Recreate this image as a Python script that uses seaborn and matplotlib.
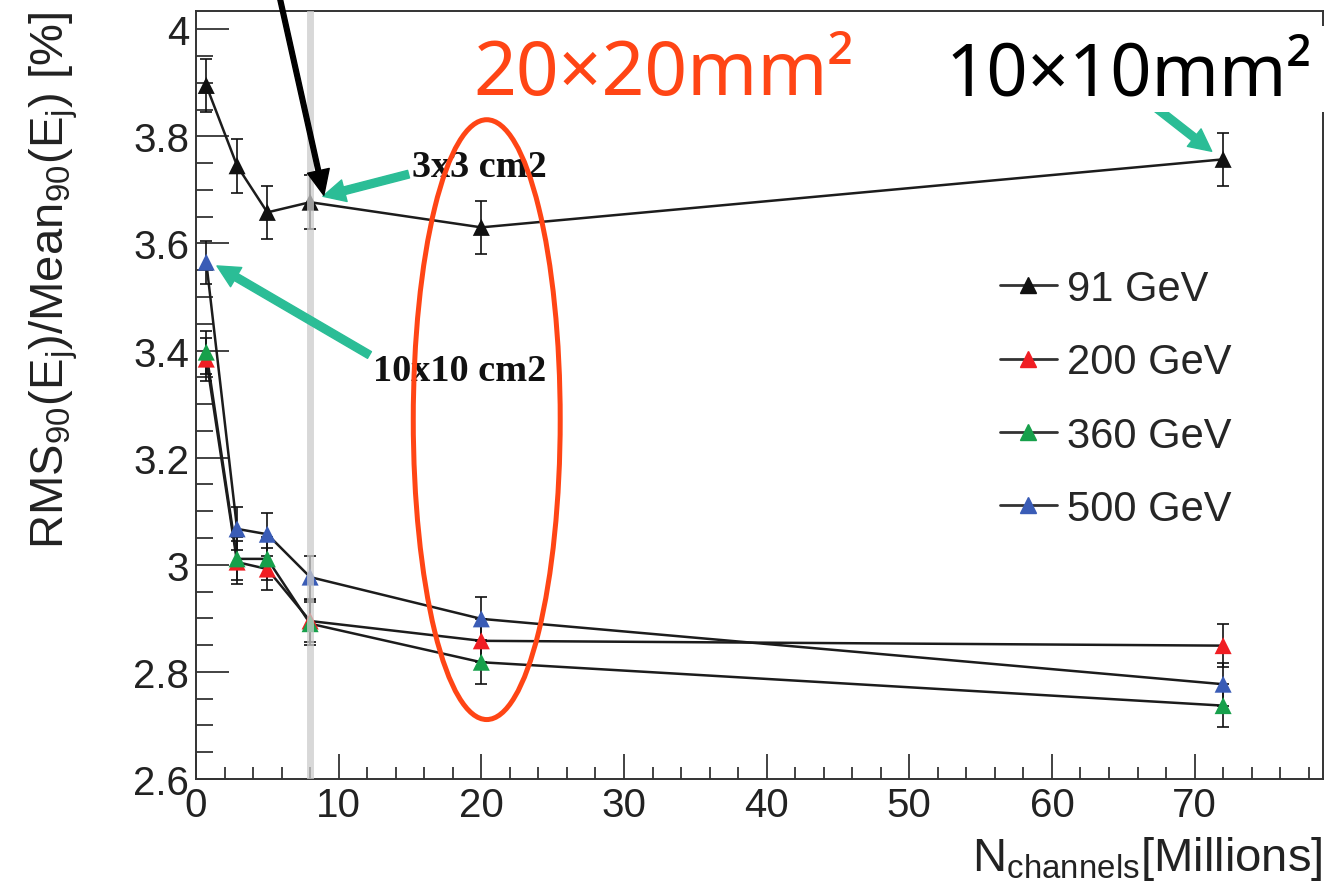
import numpy as np
import pandas as pd
import matplotlib
matplotlib.use("Agg")
import matplotlib.pyplot as plt
import seaborn as sns
from matplotlib.patches import Ellipse, Rectangle
from matplotlib.lines import Line2D
from matplotlib.ticker import MultipleLocator, FuncFormatter

# Jet energy resolution vs. number of readout channels
n_channels = [0.72, 2.88, 5.0, 8.0, 20.0, 72.0]          # millions
energies = ["91 GeV", "200 GeV", "360 GeV", "500 GeV"]
rms_91 = [3.895, 3.745, 3.658, 3.677, 3.630, 3.757]
rms_200 = [3.384, 3.005, 2.992, 2.895, 2.858, 2.849]
rms_360 = [3.397, 3.011, 3.011, 2.890, 2.818, 2.737]
rms_500 = [3.565, 3.067, 3.057, 2.977, 2.899, 2.777]
err_91 = [0.05, 0.05, 0.05, 0.05, 0.05, 0.05]
err_200 = [0.04, 0.04, 0.04, 0.04, 0.04, 0.04]
err_360 = [0.04, 0.04, 0.04, 0.04, 0.04, 0.04]
err_500 = [0.04, 0.04, 0.04, 0.04, 0.04, 0.04]
marker_colors = ["#111111", "#f01e23", "#17a04b", "#3a5cb6"]

df = pd.DataFrame({
    "x": np.tile(n_channels, len(energies)),
    "rms": np.concatenate([rms_91, rms_200, rms_360, rms_500]),
    "err": np.concatenate([err_91, err_200, err_360, err_500]),
    "energy": np.repeat(energies, len(n_channels)),
})

sns.set_theme(style="white")
plt.rcParams["font.family"] = ["Liberation Sans", "DejaVu Sans"]

W, H = 1337, 887
fig = plt.figure(figsize=(W / 100, H / 100), dpi=100)
fig.patch.set_facecolor("white")
ax = fig.add_axes([196 / W, 107 / H, 1127 / W, 768 / H])

# connecting lines (black for every series)
sns.lineplot(data=df, x="x", y="rms", units="energy", estimator=None,
             color="#1c1c1c", lw=1.8, sort=False, ax=ax, legend=False, zorder=2)
for e in energies:
    sub = df[df["energy"] == e]
    ax.errorbar(sub["x"], sub["rms"], yerr=sub["err"], fmt="none",
                ecolor="#111111", elinewidth=1.2, capsize=4.5, capthick=1.2, zorder=3)
sns.scatterplot(data=df, x="x", y="rms", hue="energy",
                palette=dict(zip(energies, marker_colors)), marker="^", s=150,
                edgecolor="none", ax=ax, legend=False, zorder=4)

# highlighted granularity
ax.axvline(8, color="#cccccc", lw=5, alpha=0.75, zorder=5)

ax.set_xlim(0, 79)
ax.set_ylim(2.6, 4.034)
ax.xaxis.set_major_locator(MultipleLocator(10))
ax.xaxis.set_minor_locator(MultipleLocator(2))
ax.yaxis.set_major_locator(MultipleLocator(0.2))
ax.yaxis.set_minor_locator(MultipleLocator(0.05))
ax.yaxis.set_major_formatter(FuncFormatter(lambda v, p: f"{v:g}"))
ax.tick_params(which="both", direction="in", bottom=True, left=True,
               top=False, right=False, colors="#222222", labelsize=29)
ax.tick_params(axis="y", which="major", length=24, width=1.2, pad=5)
ax.tick_params(axis="y", which="minor", length=12, width=1.2)
ax.tick_params(axis="x", which="major", length=18, width=1.2, pad=5)
ax.tick_params(axis="x", which="minor", length=9, width=1.2)
for s in ax.spines.values():
    s.set_color("#333333")
    s.set_linewidth(1.4)

ax.set_xlabel(r"N$_{\mathregular{channels}}$[Millions]", fontsize=34, color="#222222", loc="right")
ax.xaxis.set_label_coords(1.0, -0.072)
ax.set_ylabel(r"RMS$_{\mathregular{90}}$(E$_{\mathregular{j}}$)/Mean$_{\mathregular{90}}$(E$_{\mathregular{j}}$) [%]",
              fontsize=34, color="#222222", loc="top")
ax.yaxis.set_label_coords(-0.103, 1.0)

handles = [Line2D([], [], color="#333333", lw=2, marker="^", ms=11,
                  mfc=c, mec=c) for c in marker_colors]
ax.legend(handles, energies, loc="upper left", bbox_to_anchor=(1000 / W, (H - 270) / H),
          bbox_transform=fig.transFigure, frameon=False, fontsize=30,
          handlelength=1.36, handletextpad=0.25, labelspacing=0.8,
          borderpad=0, borderaxespad=0)

# annotations
teal = "#2bbd96"
arrow_teal = dict(arrowstyle="simple,head_length=0.8,head_width=0.8,tail_width=0.28",
                  color=teal, shrinkA=0, shrinkB=0, mutation_scale=20)
ax.annotate("3x3 cm2", xy=(8.89, 3.688), xytext=(15.13, 3.744),
            fontsize=27.5, fontweight="bold", family="Liberation Serif",
            ha="left", va="center", color="#111111", zorder=6,
            arrowprops=dict(arrow_teal, relpos=(0, 0.3)))
ax.annotate("10x10 cm2", xy=(1.47, 3.558), xytext=(12.39, 3.362),
            fontsize=27.5, fontweight="bold", family="Liberation Serif",
            ha="left", va="center", color="#111111", zorder=6,
            arrowprops=dict(arrow_teal, relpos=(0, 0.9)))
ax.annotate("", xy=(71.2, 3.772), xytext=(64.0, 3.922),
            arrowprops=arrow_teal, zorder=6)
ax.annotate("", xy=(8.96, 3.690), xytext=(275.6, H + 20),
            textcoords="figure pixels", annotation_clip=False,
            arrowprops=dict(arrowstyle="simple,head_length=0.9,head_width=0.8,tail_width=0.17",
                            color="black", shrinkA=0, shrinkB=0, mutation_scale=20),
            zorder=7)

ax.add_patch(Ellipse((20.38, 3.271), 10.3, 1.12, fill=False,
                     edgecolor="#ff4515", lw=3.6, zorder=6))

fig.text(473 / W, (H - 95) / H, "20×20mm²", fontsize=54, color="#ff4515",
         family="Noto Sans", ha="left", va="baseline")
fig.add_artist(Rectangle((940 / W, (H - 113) / H), (W - 940) / W, 86 / H,
                         transform=fig.transFigure, facecolor="white",
                         edgecolor="none", zorder=10))
fig.text(946 / W, (H - 95) / H, "10×10mm²", fontsize=52, color="black",
         family="Noto Sans", ha="left", va="baseline", zorder=11)

fig.savefig("out.png", dpi=100)
